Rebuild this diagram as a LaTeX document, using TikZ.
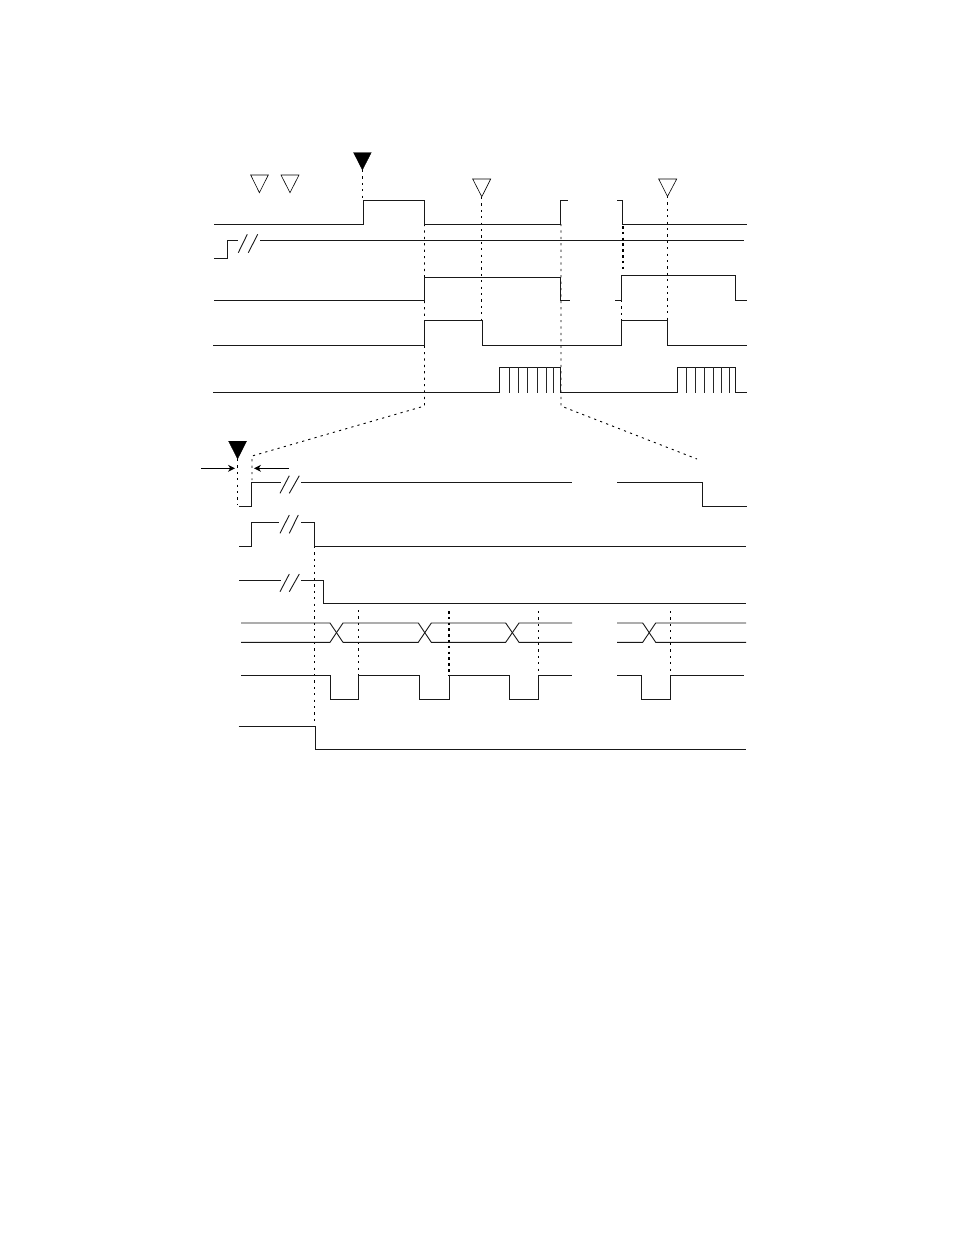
\documentclass[tikz,border=0pt]{standalone}
\usetikzlibrary{arrows.meta}
\tikzset{
  sig/.style={line width=0.9pt,black!90,line join=miter},
  guide/.style={line width=0.9pt,black,dash pattern=on 2.2pt off 4.2pt},
  heavyguide/.style={line width=1.4pt,black,dash pattern=on 2.6pt off 3.2pt},
  tri/.style={line width=0.6pt,draw=black,fill=white},
  trifilled/.style={draw=black,fill=black,line width=0.3pt},
  dim/.style={line width=0.85pt,black,-{Stealth[length=7pt,width=7pt]}},
}
\begin{document}
\begin{tikzpicture}[x=1pt,y=-1pt]
\useasboundingbox (0,0) rectangle (954,1235);
\fill[white] (0,0) rectangle (954,1235);
% guides, upper part
\draw[guide] (362.5,170) -- (362.5,200);
\draw[guide] (481.8,197) -- (481.8,320);
\draw[guide] (667.3,196) -- (667.3,320);
\draw[guide] (424.5,224) -- (424.5,406) -- (252,456) -- (252,480);
\draw[guide] (561,224) -- (561,406) -- (697,459);
\draw[heavyguide] (622.8,226) -- (622.8,272);
\draw[guide] (621.5,300) -- (621.5,320);
% guides, lower part
\draw[guide] (237.7,459) -- (237.7,505);
\draw[guide] (314.5,546) -- (314.5,721);
\draw[guide] (358.4,610) -- (358.4,675);
\draw[heavyguide] (449,611) -- (449,675);
\draw[guide] (538.4,611) -- (538.4,675);
\draw[guide] (670.7,611) -- (670.7,675);
% triangles
\draw[tri] (250.7,175) -- (268.3,175) -- (259.4,192.7) -- cycle;
\draw[tri] (281,175) -- (299,175) -- (290,192.7) -- cycle;
\draw[tri] (472.7,179) -- (490.7,179) -- (481.8,196.7) -- cycle;
\draw[tri] (658.7,179) -- (676.7,179) -- (667.5,196.5) -- cycle;
\draw[trifilled] (353.5,152.5) -- (371.3,152.5) -- (362.4,170) -- cycle;
\draw[trifilled] (228.6,441.2) -- (246.6,441.2) -- (237.6,459) -- cycle;
% upper signals
\draw[sig] (214,224.5) -- (363,224.5) -- (363,200.3) -- (424.5,200.3) -- (424.5,224.5) -- (560.7,224.5) -- (560.7,200.3) -- (568,200.3);
\draw[sig] (617.3,200.3) -- (622.6,200.3) -- (622.6,224.5) -- (747,224.5);
\draw[sig] (214,258) -- (227.5,258) -- (227.5,240.3) -- (238,240.3);
\draw[sig] (238.3,252.7) -- (247.3,234.3);
\draw[sig] (248.3,252.7) -- (257.7,234.3);
\draw[sig] (260,240.5) -- (744,240.5);
\draw[sig] (214,300.5) -- (424.5,300.5) -- (424.5,277) -- (560.7,277) -- (560.7,300.5) -- (570,300.5);
\draw[sig] (615,300.5) -- (621.5,300.5) -- (621.5,275.6) -- (735,275.6) -- (735,300.5) -- (747,300.5);
\draw[sig] (213,345) -- (424.5,345) -- (424.5,320.5) -- (482.5,320.5) -- (482.5,345) -- (621.5,345) -- (621.5,320.5) -- (667,320.5) -- (667,345) -- (747,345);
\draw[sig] (213,392.5) -- (499.4,392.5) -- (499.4,367) -- (560.7,367) -- (560.7,392.5) -- (677.4,392.5) -- (677.4,367) -- (735.4,367) -- (735.4,392.5) -- (747,392.5);
\foreach \tx in {509.3,518.3,527.7,537.3,546,553.7,686.7,695,704,713.3,721.7,729.3}
  \draw[line width=0.7pt,black!85] (\tx,367) -- (\tx,392.5);
% dimension arrows
\coordinate (dimAfrom) at (201,468.3);
\coordinate (dimAto) at (235,468.3);
\coordinate (dimBfrom) at (289,468.3);
\coordinate (dimBto) at (254,468.3);
\draw[dim] (dimAfrom) -- (dimAto);
\draw[dim] (dimBfrom) -- (dimBto);
% lower signals
\draw[sig] (239,506.8) -- (251.5,506.8) -- (251.5,482.3) -- (280.5,482.3);
\draw[sig] (280,493.3) -- (289.3,475.7);
\draw[sig] (289.3,493.3) -- (299.3,475.7);
\draw[sig] (301,482.3) -- (572,482.3);
\draw[sig] (617,482.3) -- (702.5,482.3) -- (702.5,506.8) -- (747,506.8);
\draw[sig] (239,546.3) -- (251.5,546.3) -- (251.5,522) -- (279,522);
\draw[sig] (280,533.3) -- (289.3,515);
\draw[sig] (289.3,533.3) -- (298.3,515);
\draw[sig] (301,522) -- (314.7,522) -- (314.7,546.3) -- (746,546.3);
\draw[sig] (239,580) -- (281,580);
\draw[sig] (280,591.7) -- (289.3,574);
\draw[sig] (289.3,591.7) -- (299.3,574);
\draw[sig] (301,580) -- (323,580) -- (323,603.3) -- (746,603.3);
% bus
\draw[sig] (241,623) -- (330,623) -- (343,642.3) -- (418.3,642.3) -- (431.3,623) -- (505.7,623) -- (519,642.3) -- (572,642.3);
\draw[sig] (241,642.3) -- (330,642.3) -- (343,623) -- (418.3,623) -- (431.3,642.3) -- (505.7,642.3) -- (519,623) -- (572,623);
\draw[sig] (617,623) -- (642.7,623) -- (655.7,642.3) -- (746,642.3);
\draw[sig] (617,642.3) -- (642.7,642.3) -- (655.7,623) -- (746,623);
% clock
\draw[sig] (241,675) -- (330,675) -- (330,699.7) -- (358.4,699.7) -- (358.4,675) -- (419.7,675) -- (419.7,699.7) -- (449,699.7) -- (449,675) -- (509.7,675) -- (509.7,699.7) -- (538.4,699.7) -- (538.4,675) -- (572,675);
\draw[sig] (617,675) -- (641,675) -- (641,699.7) -- (670.7,699.7) -- (670.7,675) -- (743.7,675);
% last
\draw[sig] (238.5,726.7) -- (315.3,726.7) -- (315.3,749.7) -- (746,749.7);
\end{tikzpicture}
\end{document}
